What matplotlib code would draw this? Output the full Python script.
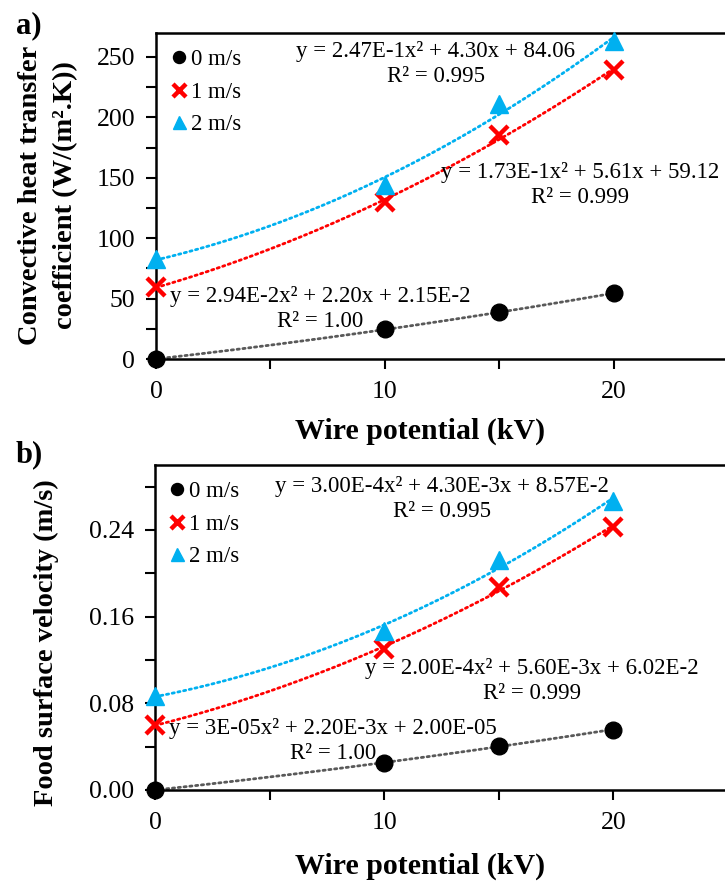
import numpy as np
import matplotlib
matplotlib.use("Agg")
import matplotlib.pyplot as plt
from matplotlib.ticker import MultipleLocator, FixedLocator

plt.rcParams['font.family'] = ['Liberation Serif', 'DejaVu Serif']

# ---------------- data ----------------
voltage = [0, 10, 15, 20]
series_labels = ["0 m/s", "1 m/s", "2 m/s"]

h_0 = [0, 24.5, 38.5, 54.5]
h_1 = [59.5, 129.5, 185, 239]
h_2 = [83, 144, 211, 263]

v_0 = [0, 0.025, 0.0405, 0.0558]
v_1 = [0.060, 0.130, 0.187, 0.243]
v_2 = [0.087, 0.147, 0.212, 0.267]

eq_a = ["y = 2.94E-2x² + 2.20x + 2.15E-2\nR² = 1.00",
        "y = 1.73E-1x² + 5.61x + 59.12\nR² = 0.999",
        "y = 2.47E-1x² + 4.30x + 84.06\nR² = 0.995"]
eq_b = ["y = 3E-05x² + 2.20E-3x + 2.00E-05\nR² = 1.00",
        "y = 2.00E-4x² + 5.60E-3x + 6.02E-2\nR² = 0.999",
        "y = 3.00E-4x² + 4.30E-3x + 8.57E-2\nR² = 0.995"]

# ---------------- styles ----------------
W, H = 725, 883
colors = ["black", "#FF0000", "#00B0F0"]
trend_colors = ["#595959", "#FF0000", "#00B0F0"]
markers = ["o", "x", "^"]
msizes = [12, 13, 13]
mews = [1, 3.2, 1]

def fx(px):
    return px / W

def fy(py):
    return 1 - py / H

fig = plt.figure(figsize=(W / 100, H / 100), dpi=100)

def make_panel(rect, data, ylim, ymajor, yminor, eqs, eq_pos, leg_top, yfmt):
    ax = fig.add_axes(rect)
    xs = np.linspace(0, 20, 200)
    handles = []
    for d, c, tc, m, ms, mw, lab in zip(data, colors, trend_colors, markers, msizes, mews, series_labels):
        coef = np.polyfit(voltage, d, 2)
        ax.plot(xs, np.polyval(coef, xs), color=tc, lw=2.0,
                linestyle=(0, (0.8, 1.3)), dash_capstyle='round', zorder=2)
        h, = ax.plot(voltage, d, linestyle='none', marker=m, markersize=ms,
                     color=c, markeredgewidth=mw, label=lab, zorder=3, clip_on=False)
        handles.append(h)
    ax.set_xlim(0, 25)
    ax.set_ylim(*ylim)
    ax.xaxis.set_major_locator(FixedLocator([0, 10, 20]))
    ax.xaxis.set_minor_locator(FixedLocator([5, 15, 25]))
    ax.yaxis.set_major_locator(MultipleLocator(ymajor))
    ax.yaxis.set_minor_locator(MultipleLocator(yminor))
    ax.yaxis.set_major_formatter(yfmt)
    ax.tick_params(axis='both', which='both', direction='out', length=7, width=1.5,
                   labelsize=18.5)
    ax.tick_params(axis='x', which='major', pad=9)
    ax.tick_params(axis='y', which='major', pad=8)
    for s in ax.spines.values():
        s.set_linewidth(1.8)
    ax.legend(handles=handles, loc='upper left',
              bbox_to_anchor=(fx(leg_top[0]), fy(leg_top[1])),
              bbox_transform=fig.transFigure, frameon=False, fontsize=16.5,
              handlelength=0.6, handletextpad=0.25, labelspacing=0.5,
              borderpad=0, borderaxespad=0, markerscale=0.72)
    for txt, (px, py) in zip(eqs, eq_pos):
        fig.text(fx(px), fy(py), txt, ha='center', va='center', fontsize=16.5,
                 linespacing=1.3, multialignment='center')
    return ax

# panel a
ax_a = make_panel([fx(156), fy(359), fx(728) - fx(156), fy(32.7) - fy(359)],
                  [h_0, h_1, h_2], (0, 270), 50, 25, eq_a,
                  [(320, 309), (580, 185), (436, 64)], (172, 49),
                  matplotlib.ticker.FormatStrFormatter('%d'))

# panel b
ax_b = make_panel([fx(155), fy(790), fx(728) - fx(155), fy(465) - fy(790)],
                  [v_0, v_1, v_2], (0, 0.30), 0.08, 0.04, eq_b,
                  [(333, 741), (532, 681), (442, 499)], (170, 481),
                  matplotlib.ticker.FormatStrFormatter('%.2f'))

# labels
fig.text(fx(29), fy(26), "a)", fontsize=22, fontweight='bold', ha='center', va='center')
fig.text(fx(29), fy(455), "b)", fontsize=22, fontweight='bold', ha='center', va='center')

fig.text(fx(420), fy(431), "Wire potential (kV)", fontsize=21.5, fontweight='bold',
         ha='center', va='center')
fig.text(fx(420), fy(866), "Wire potential (kV)", fontsize=21.5, fontweight='bold',
         ha='center', va='center')

fig.text(fx(48), fy(195), "Convective heat transfer\ncoefficient (W/(m².K))",
         fontsize=20.5, fontweight='bold', rotation=90, ha='center', va='center',
         linespacing=1.55, multialignment='center')
fig.text(fx(46), fy(643), "Food surface velocity (m/s)",
         fontsize=20.5, fontweight='bold', rotation=90, ha='center', va='center')

fig.savefig("out.png", dpi=100)
